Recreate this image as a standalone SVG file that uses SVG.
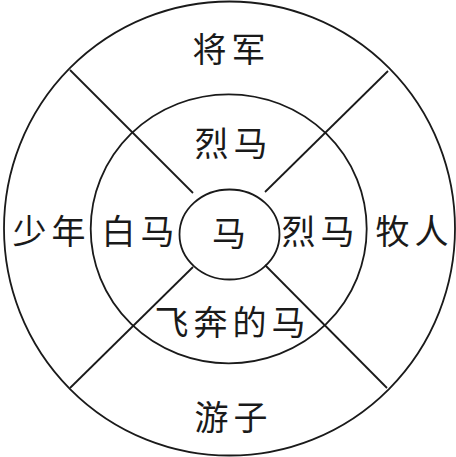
<svg xmlns="http://www.w3.org/2000/svg" width="456" height="457" viewBox="0 0 456 457">
<style>
.ring{fill:none;stroke:#1a1a1a;stroke-width:1.8}
.ln{stroke:#1a1a1a;stroke-width:1.8;fill:none}
.t{font-family:"Noto Sans CJK SC","Noto Sans CJK JP",sans-serif;font-size:34px;fill:#1a1a1a;text-anchor:middle;dominant-baseline:central;letter-spacing:5px}
</style>
<rect width="456" height="457" fill="#fff"/>
<g id="rings">
<ellipse class="ring" cx="229.5" cy="228.5" rx="225.5" ry="227"/>
<ellipse class="ring" cx="228.7" cy="228.8" rx="138" ry="134.5"/>
<ellipse class="ring" cx="229.5" cy="234.5" rx="50" ry="45"/>
</g>
<g id="connectors">
<line class="ln" x1="70" y1="70" x2="193" y2="193"/>
<line class="ln" x1="388" y1="71" x2="265" y2="192"/>
<line class="ln" x1="70" y1="388" x2="193" y2="267"/>
<line class="ln" x1="265" y1="265" x2="387" y2="388"/>
</g>
<g id="n-jiangjun"><text class="t" x="231.5" y="47.5">将军</text></g>
<g id="n-liema-top"><text class="t" x="233.5" y="141">烈马</text></g>
<g id="n-shaonian"><text class="t" x="51.5" y="229">少年</text></g>
<g id="n-baima"><text class="t" x="140.5" y="229">白马</text></g>
<g id="n-ma"><text class="t" x="231.5" y="231">马</text></g>
<g id="n-liema-right"><text class="t" x="320.5" y="229">烈马</text></g>
<g id="n-muren"><text class="t" x="414.5" y="229">牧人</text></g>
<g id="n-feibendema"><text class="t" x="232.5" y="320">飞奔的马</text></g>
<g id="n-youzi"><text class="t" x="233.5" y="415">游子</text></g>
</svg>
